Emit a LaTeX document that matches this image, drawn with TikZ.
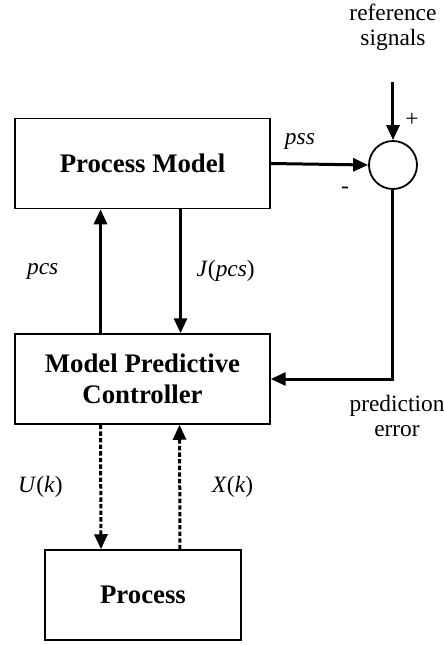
\documentclass[tikz,border=0pt]{standalone}
\usepackage{fontspec}
\setmainfont{Liberation Serif}
\usetikzlibrary{arrows.meta, positioning, calc}

\begin{document}
\begin{tikzpicture}[
        x=0.5pt, y=-0.5pt,
        block/.style={rectangle, draw, line width=0.75pt, minimum width=127.5pt, minimum height=45pt, align=center, font=\fontsize{13.4}{15.5}\selectfont\bfseries},
        sumnode/.style={circle, draw, line width=0.9pt, minimum size=24pt, inner sep=0pt},
        arrow/.style={-{Triangle[length=7.5pt, width=6.5pt]}, line width=1.5pt},
        dotarrow/.style={arrow, dash pattern=on 2.2pt off 1.1pt},
        lbl/.style={font=\fontsize{11.7}{12.5}\selectfont, align=center}
    ]
        \useasboundingbox (0,0) rectangle (444,645);

        \node[block] (model) at (142.5,163.5) {Process Model};
        \node[block] (mpc) at (142.5,379) {Model Predictive\\Controller};
        \node[block, minimum width=98pt] (process) at (143,595) {Process};
        \node[sumnode] (sum) at (393,165) {};

        \node[lbl] (reftext) at (393,27) {reference\\signals};
        \coordinate (refin) at (393,82);
        \node[lbl] (plus) at (412,120) {+};
        \node[lbl] (minus) at (345,190) {-};
        \node[lbl] (errtext) at (397,416) {prediction\\error};

        \draw[arrow] (refin) -- (sum.north);
        \draw[arrow] (model.east) -- node[lbl, above=3pt, pos=0.3] {\textit{pss}} (sum.west);
        \draw[arrow] (sum.south) |- (mpc.east);

        \draw[arrow] ([xshift=-21pt]mpc.north) -- node[lbl, left=17pt] {\textit{pcs}} ([xshift=-21pt]model.south);
        \draw[arrow] ([xshift=19pt]model.south) -- node[lbl, right=4pt] {\textit{J}(\textit{pcs})} ([xshift=19pt]mpc.north);

        \draw[dotarrow] ([xshift=-21pt]mpc.south) -- node[lbl, left=15pt] {\textit{U}(\textit{k})} ([xshift=-21pt]process.north);
        \draw[dotarrow] ([xshift=18.5pt]process.north) -- node[lbl, right=12pt] {\textit{X}(\textit{k})} ([xshift=18.5pt]mpc.south);
    \end{tikzpicture}
\end{document}
